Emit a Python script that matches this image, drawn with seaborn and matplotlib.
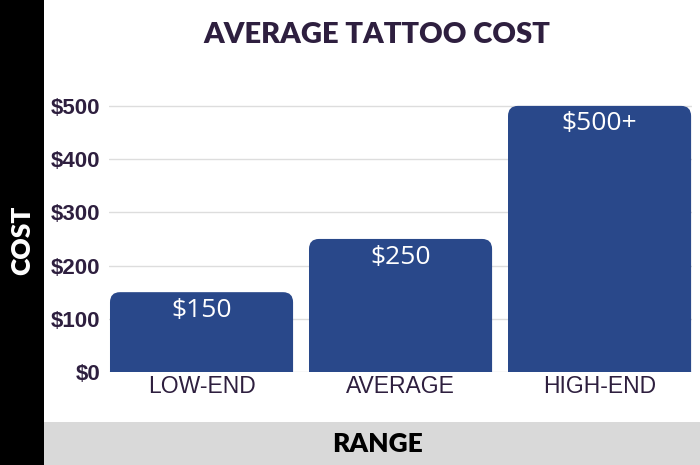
import matplotlib
matplotlib.use("Agg")
import matplotlib.pyplot as plt
import seaborn as sns
import pandas as pd
from matplotlib.patches import Rectangle, FancyBboxPatch

ranges = ["LOW-END", "AVERAGE", "HIGH-END"]
costs = [150, 250, 500]
cost_labels = ["$150", "$250", "$500+"]
y_ticks = [0, 100, 200, 300, 400, 500]
y_tick_labels = ["$0", "$100", "$200", "$300", "$400", "$500"]

bar_color = "#29488a"
text_dark = "#2e1f3f"

sns.set_theme(style="white")
plt.rcParams["font.family"] = ["Liberation Sans", "DejaVu Sans"]

df = pd.DataFrame({"range": ranges, "cost": costs})

fig = plt.figure(figsize=(7, 4.65), dpi=100)
ax = fig.add_axes([0.1557, 0.2, 0.833, 0.578])

sns.barplot(data=df, x="range", y="cost", color=bar_color, width=0.92,
            saturation=1, ax=ax)

ax.set_xlim(-0.465, 2.465)
ax.set_ylim(0, 505)

# swap plain bars for ones with rounded tops
rx = 0.05
ry = 19
for p in list(ax.patches):
    x0, w, h = p.get_x(), p.get_width(), p.get_height()
    p.remove()
    fb = FancyBboxPatch((x0, -40), w, h + 40,
                        boxstyle="round,pad=0,rounding_size=%f" % rx,
                        mutation_aspect=ry / rx,
                        facecolor=bar_color, edgecolor="none", zorder=3)
    ax.add_patch(fb)

for i, (v, lab) in enumerate(zip(costs, cost_labels)):
    ax.annotate(lab, (i, v), xytext=(0, -13), textcoords="offset points",
                ha="center", va="center", color="white", fontsize=19,
                family=["Open Sans", "DejaVu Sans"], zorder=4)

ax.set_yticks(y_ticks)
ax.set_yticklabels(y_tick_labels, fontsize=16, fontweight="bold", color=text_dark)
ax.set_xticks(range(len(ranges)))
ax.set_xticklabels(ranges, fontsize=16.5, color=text_dark)
ax.tick_params(axis="y", length=0, pad=6)
ax.tick_params(axis="x", length=0, pad=2)
ax.yaxis.grid(True, color="#dddddd", linewidth=1)
ax.set_axisbelow(True)
ax.set_xlabel("")
ax.set_ylabel("")
for s in ax.spines.values():
    s.set_visible(False)

# side and bottom bands
fig.patches.append(Rectangle((0, 0), 44 / 700, 1, transform=fig.transFigure,
                             facecolor="black", edgecolor="none", zorder=0))
fig.patches.append(Rectangle((44 / 700, 0), 1, 43 / 465, transform=fig.transFigure,
                             facecolor="#d9d9d9", edgecolor="none", zorder=0))

fig.text(377 / 700, 1 - 35 / 465, "AVERAGE TATTOO COST", ha="center", va="center",
         fontsize=21, fontweight="heavy", color=text_dark,
         family=["Lato", "DejaVu Sans"])
fig.text(22 / 700, 1 - 240 / 465, "COST", ha="center", va="center", rotation=90,
         fontsize=19, fontweight="heavy", color="white",
         family=["Lato", "DejaVu Sans"])
fig.text(378 / 700, 1 - 444 / 465, "RANGE", ha="center", va="center",
         fontsize=19, fontweight="heavy", color="black",
         family=["Lato", "DejaVu Sans"])

fig.savefig("out.png", dpi=100)
